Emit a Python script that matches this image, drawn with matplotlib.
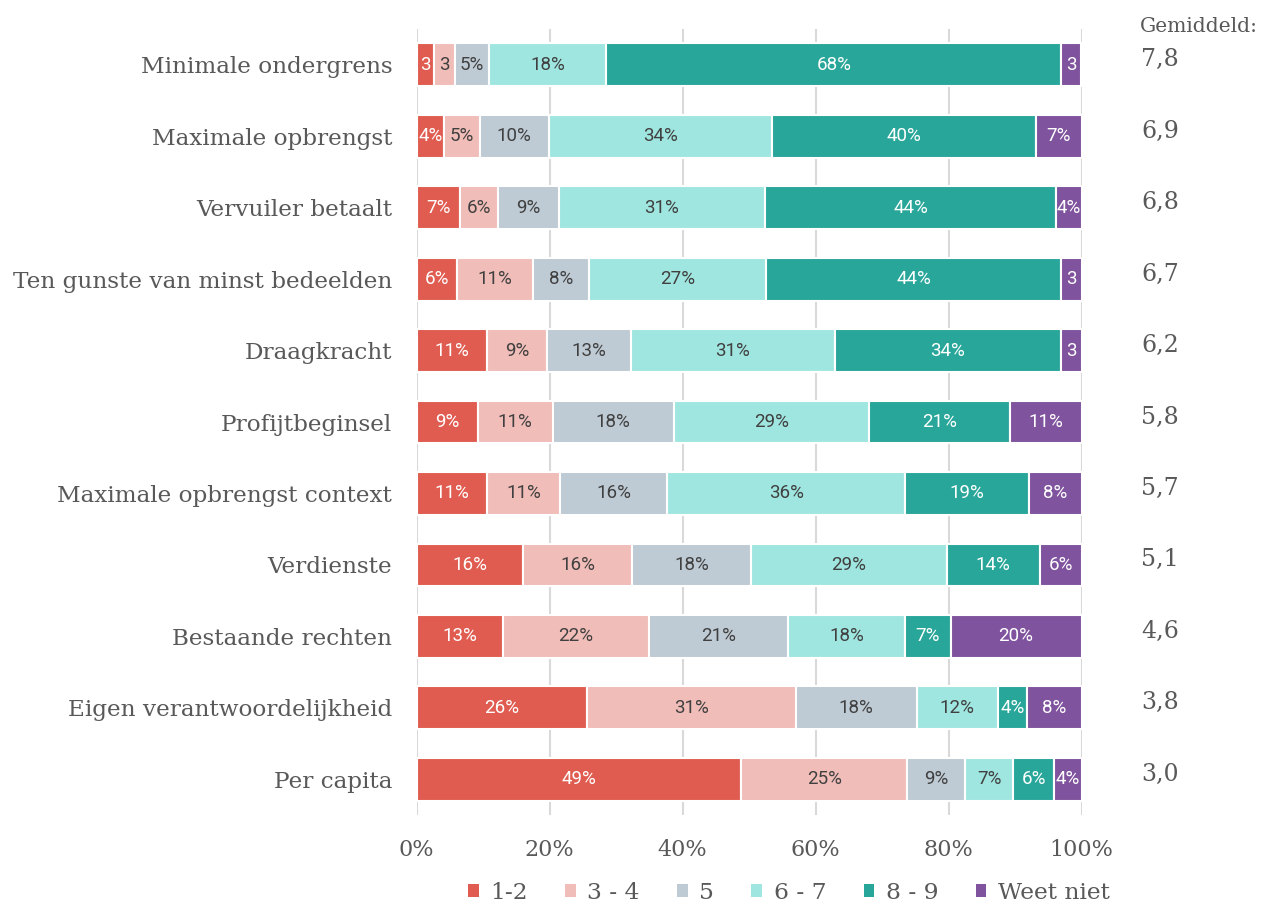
import matplotlib
matplotlib.use("Agg")
import matplotlib.pyplot as plt
import numpy as np
from matplotlib.patches import Patch

categories = ["Minimale ondergrens", "Maximale opbrengst", "Vervuiler betaalt",
              "Ten gunste van minst bedeelden", "Draagkracht", "Profijtbeginsel",
              "Maximale opbrengst context", "Verdienste", "Bestaande rechten",
              "Eigen verantwoordelijkheid", "Per capita"]
series_names = ["1-2", "3 - 4", "5", "6 - 7", "8 - 9", "Weet niet"]
s_1_2 = [2.65, 4.2, 6.6, 6.1, 10.6, 9.2, 10.6, 16.0, 13.0, 25.6, 48.8]
s_3_4 = [3.2, 5.3, 5.6, 11.4, 9.0, 11.3, 11.0, 16.4, 22.0, 31.4, 25.0]
s_5 = [5.0, 10.4, 9.2, 8.4, 12.6, 18.2, 16.1, 17.9, 20.8, 18.2, 8.7]
s_6_7 = [17.7, 33.6, 31.0, 26.7, 30.7, 29.4, 35.8, 29.4, 17.7, 12.2, 7.2]
s_8_9 = [68.4, 39.6, 43.8, 44.3, 34.0, 21.1, 18.6, 14.0, 6.8, 4.4, 6.2]
s_weet = [2.95, 6.9, 3.8, 3.1, 3.1, 10.8, 7.9, 6.3, 19.7, 8.2, 4.1]
averages = ["7,8", "6,9", "6,8", "6,7", "6,2", "5,8", "5,7", "5,1", "4,6", "3,8", "3,0"]
xticks = [0, 20, 40, 60, 80, 100]
xticklabels = ["0%", "20%", "40%", "60%", "80%", "100%"]

series = [s_1_2, s_3_4, s_5, s_6_7, s_8_9, s_weet]
colors = ["#E05C50", "#F1BDB8", "#BECAD4", "#A0E6E0", "#29A69A", "#7F539D"]
text_colors = ["white", "#404040", "#404040", "#404040", "white", "white"]

SERIF = ["DejaVu Serif"]
GRAY = "#595959"

fig = plt.figure(figsize=(12.63, 9.08), dpi=100)
ax = fig.add_axes([0.3298, 0.1024, 0.5265, 0.8656])

y = np.arange(len(categories))
left = np.zeros(len(categories))
for vals, col, tcol in zip(series, colors, text_colors):
    vals = np.array(vals)
    ax.barh(y, vals, left=left, height=0.6, color=col, edgecolor="white",
            linewidth=1.5, zorder=3)
    for yi, (l, v) in enumerate(zip(left, vals)):
        lab = f"{v:.0f}%" if v >= 3.5 else f"{v:.0f}"
        ax.text(l + v / 2, yi, lab, ha="center", va="center", color=tcol,
                fontsize=13.5, family=["Roboto", "DejaVu Sans"], zorder=4)
    left = left + vals

ax.set_xlim(0, 100)
ax.set_ylim(len(categories) - 0.5, -0.5)
ax.set_yticks(y)
ax.set_yticklabels(categories, family=SERIF, fontsize=16.7, color=GRAY)
ax.set_xticks(xticks)
ax.set_xticklabels(xticklabels, family=SERIF, fontsize=16, color=GRAY)
ax.tick_params(axis="both", length=0)
ax.tick_params(axis="y", pad=17.5)
ax.tick_params(axis="x", pad=17)
ax.grid(axis="x", color="#D9D9D9", linewidth=1.5, zorder=0)
for s in ax.spines.values():
    s.set_visible(False)

# averages
for yi, a in enumerate(averages):
    ax.text(1.09, yi - 0.07, a, transform=ax.get_yaxis_transform(),
            ha="left", va="center", family=SERIF, fontsize=17, color=GRAY)
fig.text(1140 / 1263, 1 - 27 / 908, "Gemiddeld:", ha="left", va="center",
         family=SERIF, fontsize=14.6, color=GRAY)

handles = [Patch(facecolor=c, edgecolor="none") for c in colors]
fig.legend(handles, series_names, loc="center", bbox_to_anchor=(789 / 1263, 1 - 893 / 908),
           ncol=6, frameon=False, prop={"family": SERIF, "size": 16.8},
           labelcolor=GRAY, handlelength=0.45, handleheight=0.45, handletextpad=0.5,
           columnspacing=1.6, borderpad=0.2)

fig.savefig("out.png", dpi=100)
